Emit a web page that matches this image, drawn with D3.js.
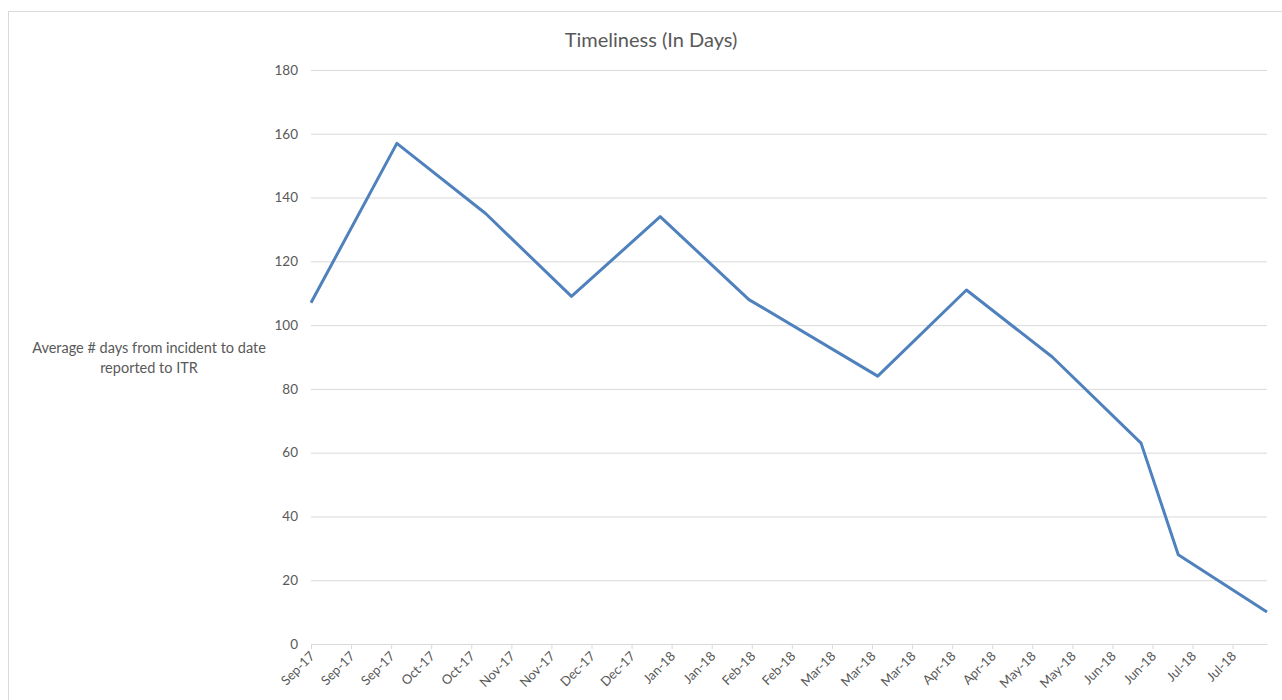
<!DOCTYPE html>
<meta charset="utf-8">
<style>
  body { margin: 0; background: #fff; }
  text { font-family: Lato, "Open Sans", sans-serif; fill: #595959; }
</style>
<body>
<script src="https://cdn.jsdelivr.net/npm/d3@7"></script>
<script>

// data
var dates  = ["2017-09-01","2017-10-01","2017-11-01","2017-12-01","2018-01-01","2018-02-01",
              "2018-03-18","2018-04-18","2018-05-18","2018-06-18","2018-07-01","2018-08-01"];
var values = [107, 157, 135, 109, 134, 108, 84, 111, 90, 63, 28, 10];
var yTicks = [0, 20, 40, 60, 80, 100, 120, 140, 160, 180];
var title  = "Timeliness (In Days)";
var yTitle = ["Average # days from incident to date", "reported to ITR"];

const width = 1282, height = 700;
var parse = d3.timeParse("%Y-%m-%d");
var points = dates.map((d,i) => ({ date: parse(d), value: values[i] }));

var x = d3.scaleTime()
  .domain(d3.extent(points, d => d.date))
  .range([311, 1267]);
var y = d3.scaleLinear().domain([0, 180]).range([644, 70]);

// excel style date axis: a tick every 14 days from the first date
var xTicks = [];
for (var t = x.domain()[0]; t <= x.domain()[1]; t = d3.timeDay.offset(t, 14)) xTicks.push(t);

var svg = d3.select("body").append("svg")
  .attr("width", width)
  .attr("height", height);

// chart frame
svg.append("rect")
  .attr("x", 8.5).attr("y", 11.5)
  .attr("width", width).attr("height", height)
  .attr("fill", "none")
  .attr("stroke", "#d9d9d9");

svg.append("text")
  .attr("x", 651).attr("y", 47)
  .attr("text-anchor", "middle")
  .style("font-size", "20px")
  .text(title);

// gridlines + y labels
var gy = svg.append("g")
  .attr("transform", "translate(311,0)")
  .call(d3.axisLeft(y).tickValues(yTicks).tickSize(-(1267 - 311)).tickPadding(13));
gy.select(".domain").remove();
gy.selectAll(".tick line").attr("stroke", "#d9d9d9");
gy.selectAll(".tick text").style("font-size", "13.5px").attr("fill", "#595959");

// x axis
var gx = svg.append("g")
  .attr("transform", "translate(0,644)")
  .call(d3.axisBottom(x).tickValues(xTicks).tickFormat(d3.timeFormat("%b-%y")).tickSize(5).tickSizeOuter(0));
gx.select(".domain").attr("stroke", "#d9d9d9");
gx.selectAll(".tick line").attr("stroke", "#d9d9d9");
gx.selectAll(".tick text")
  .style("font-size", "13px")
  .attr("fill", "#595959")
  .attr("text-anchor", "end")
  .attr("y", 0)
  .attr("dy", 0)
  .attr("transform", "translate(4,13) rotate(-45)");

// y axis title
svg.append("text")
  .attr("x", 149).attr("y", 353)
  .attr("text-anchor", "middle")
  .style("font-size", "14.5px")
  .selectAll("tspan")
  .data(yTitle)
  .enter()
  .append("tspan")
    .attr("x", 149)
    .attr("dy", (d,i) => i == 0 ? 0 : "1.4em")
    .text(d => d);

svg.append("path")
  .datum(points)
  .attr("fill", "none")
  .attr("stroke", "#4f81bd")
  .attr("stroke-width", 3)
  .attr("stroke-linejoin", "round")
  .attr("d", d3.line().x(d => x(d.date)).y(d => y(d.value)));

</script>
</body>
